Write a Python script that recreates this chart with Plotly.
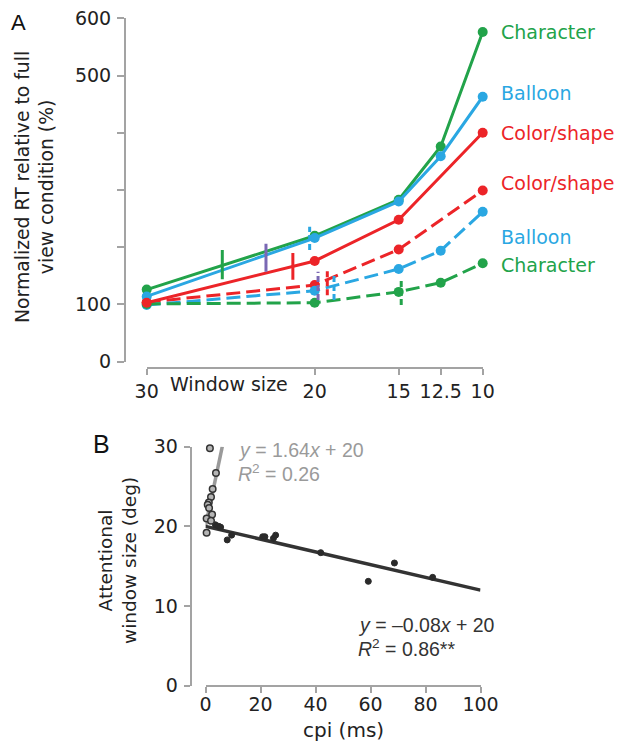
import plotly.graph_objects as go

W, H = 621, 746

# ---------------- Panel A data ----------------
win_ticks = [30, 20, 15, 12.5, 10]
win_tick_text = ["30", "20", "15", "12.5", "10"]
y_ticks_a = [0, 100, 500, 600]
y_minor_a = [200, 300, 400]

char_solid_x = [30, 20, 15, 12.5, 10]
char_solid_y = [126, 220, 283, 376, 576]
ball_solid_x = [30, 20, 15, 12.5, 10]
ball_solid_y = [114, 216, 280, 359, 463]
col_solid_x = [30, 20, 15, 10]
col_solid_y = [103, 176, 248, 400]
col_dash_x = [30, 20, 15, 10]
col_dash_y = [104, 134, 196, 299]
ball_dash_x = [30, 20, 15, 12.5, 10]
ball_dash_y = [99, 124, 162, 194, 262]
char_dash_x = [30, 20, 15, 12.5, 10]
char_dash_y = [101, 103, 122, 138, 172]

# attentional-window threshold markers
thr_window = [25.5, 22.9, 21.3, 20.3, 19.8, 19.25, 18.85, 14.85]
thr_low = [144, 157, 143, 195, 108, 116, 108, 99]
thr_high = [195, 206, 190, 236, 157, 160, 151, 146]
thr_kind = ["char", "purple", "col", "ball", "purple", "col", "ball", "char"]
thr_dashed = [False, False, False, True, True, True, True, True]

# ---------------- Panel B data ----------------
cpi_open = [1.6, 3.8, 2.6, 2.0, 1.2, 0.8, 1.3, 2.4, 0.4, 2.0, 0.4]
win_open = [29.8, 26.7, 24.7, 23.7, 23.0, 22.7, 22.3, 21.5, 21.0, 20.7, 19.2]
cpi_filled = [3.6, 4.8, 5.5, 7.9, 9.5, 20.8, 21.6, 24.7, 25.5, 41.9, 59.2, 68.7, 82.6]
win_filled = [20.2, 20.0, 19.9, 18.3, 18.9, 18.7, 18.7, 18.5, 18.9, 16.7, 13.1, 15.4, 13.6]
fit_gray = (1.64, 20.0, [0.0, 6.1])
fit_dark = (-0.08, 20.0, [0.0, 100.0])
x_ticks_b = [0, 20, 40, 60, 80, 100]
y_ticks_b = [0, 10, 20, 30]

GREEN = "#22a34a"
BLUE = "#2aa7e2"
RED = "#ec2428"
PURPLE = "#7a68b4"
AXIS = "#a3a3a3"
TXT = "#222222"
colors = {"char": GREEN, "ball": BLUE, "col": RED, "purple": PURPLE}

FONT = "DejaVu Sans"
EQF = "Liberation Sans"


def px_x(p):
    return p / W


def px_y(p):
    return 1 - p / H


fig = go.Figure()

series = [
    (char_solid_x, char_solid_y, GREEN, "solid"),
    (ball_solid_x, ball_solid_y, BLUE, "solid"),
    (col_solid_x, col_solid_y, RED, "solid"),
    (col_dash_x, col_dash_y, RED, "14px,6px"),
    (ball_dash_x, ball_dash_y, BLUE, "14px,6px"),
    (char_dash_x, char_dash_y, GREEN, "14px,6px"),
]
for xs, ys, c, d in series[3:] + series[:3]:
    fig.add_trace(go.Scatter(
        x=xs, y=ys, mode="lines+markers", xaxis="x", yaxis="y",
        line=dict(color=c, width=3, dash=d),
        marker=dict(color=c, size=10), cliponaxis=False, showlegend=False,
        hoverinfo="skip"))

for w, lo, hi, k, dsh in zip(thr_window, thr_low, thr_high, thr_kind, thr_dashed):
    fig.add_trace(go.Scatter(
        x=[w, w], y=[lo, hi], mode="lines", xaxis="x", yaxis="y",
        line=dict(color=colors[k], width=3, dash="6px,3px" if dsh else "solid"),
        cliponaxis=False, showlegend=False, hoverinfo="skip"))

# Panel B
for slope, icpt, xr, col in [(fit_gray[0], fit_gray[1], fit_gray[2], "#9a9a9a"),
                             (fit_dark[0], fit_dark[1], fit_dark[2], "#333333")]:
    fig.add_trace(go.Scatter(
        x=xr, y=[slope * v + icpt for v in xr], mode="lines",
        xaxis="x2", yaxis="y2", line=dict(color=col, width=3.5),
        cliponaxis=False, showlegend=False, hoverinfo="skip"))

fig.add_trace(go.Scatter(
    x=cpi_filled, y=win_filled, mode="markers", xaxis="x2", yaxis="y2",
    marker=dict(color="#2a2a2a", size=6, line=dict(color="#2a2a2a", width=1)),
    cliponaxis=False, showlegend=False, hoverinfo="skip"))
fig.add_trace(go.Scatter(
    x=cpi_open, y=win_open, mode="markers", xaxis="x2", yaxis="y2",
    marker=dict(color="#b5b5b5", size=6.5, line=dict(color="#333333", width=1.5)),
    cliponaxis=False, showlegend=False, hoverinfo="skip"))

axis_common = dict(showgrid=False, zeroline=False, showline=True,
                   linecolor=AXIS, linewidth=2, ticks="outside",
                   tickcolor=AXIS, tickwidth=2, fixedrange=True,
                   automargin=False)

fig.update_layout(
    template="none",
    width=W, height=H, autosize=False,
    margin=dict(l=0, r=0, t=0, b=0, pad=0),
    paper_bgcolor="white", plot_bgcolor="white",
    showlegend=False,
    xaxis=dict(domain=[px_x(146.7), px_x(482.7)], range=[30, 10],
               anchor="free", position=px_y(368.3),
               tickvals=win_ticks, ticktext=win_tick_text, ticklen=6,
               ticklabelstandoff=0,
               tickfont=dict(family=FONT, size=19, color=TXT), **axis_common),
    yaxis=dict(domain=[px_y(361.7), px_y(18.3)], range=[0, 600],
               anchor="free", position=px_x(125),
               tickvals=y_ticks_a, ticklen=7,
               minor=dict(tickvals=y_minor_a, ticks="outside", ticklen=7,
                          tickcolor=AXIS, tickwidth=2, showgrid=False),
               ticklabelstandoff=2,
               tickfont=dict(family=FONT, size=19, color=TXT), **axis_common),
    xaxis2=dict(domain=[px_x(205.5), px_x(480.5)], range=[0, 100],
                anchor="free", position=px_y(686.0),
                tickvals=x_ticks_b, ticklen=6, ticklabelstandoff=-5,
                tickfont=dict(family=FONT, size=19, color=TXT), **axis_common),
    yaxis2=dict(domain=[px_y(685.7), px_y(446.7)], range=[0, 30],
                anchor="free", position=px_x(190.7),
                tickvals=y_ticks_b, ticklen=6, ticklabelstandoff=2,
                tickfont=dict(family=FONT, size=19, color=TXT), **axis_common),
)

ann = []


def add(text, x, y, size=19, color=TXT, family=FONT, xanchor="center",
        yanchor="middle", angle=0, align="center"):
    ann.append(dict(text=text, x=px_x(x), y=px_y(y), xref="paper", yref="paper",
                    showarrow=False, xanchor=xanchor, yanchor=yanchor,
                    textangle=angle, align=align,
                    font=dict(family=family, size=size, color=color)))


add("A", 18, 22, size=22, family=EQF, color="#111")
add("B", 101, 444, size=25, family=EQF, color="#111")
add("Normalized RT relative to full<br>view condition (%)", 34, 187,
    size=18.8, angle=-90)
add("Window size", 229, 384, size=19)

right_labels = [("Character", 32, GREEN), ("Balloon", 93, BLUE),
                ("Color/shape", 133, RED), ("Color/shape", 183, RED),
                ("Balloon", 237, BLUE), ("Character", 265, GREEN)]
for t, yy, c in right_labels:
    add(t, 499, yy, size=19, color=c, xanchor="left")

add("Attentional<br>window size (deg)", 117, 561, size=18.5, angle=-90)
add("cpi (ms)", 343, 730, size=20)

add("<i>y</i> = 1.64<i>x</i> + 20", 236, 450, size=19.5, color="#9a9a9a",
    family=EQF, xanchor="left")
add("<i>R</i><sup>2</sup> = 0.26", 236, 473, size=19.5, color="#9a9a9a",
    family=EQF, xanchor="left")
add("<i>y</i> = \u20130.08<i>x</i> + 20", 356, 625, size=19.5, color="#333",
    family=EQF, xanchor="left")
add("<i>R</i><sup>2</sup> = 0.86**", 356, 648, size=19.5, color="#333",
    family=EQF, xanchor="left")

fig.update_layout(annotations=ann)

fig.write_html("out.html",
               config={"displayModeBar": False, "staticPlot": True},
               post_script="document.body.style.margin='0px';"
                           "document.body.style.overflow='hidden';")
